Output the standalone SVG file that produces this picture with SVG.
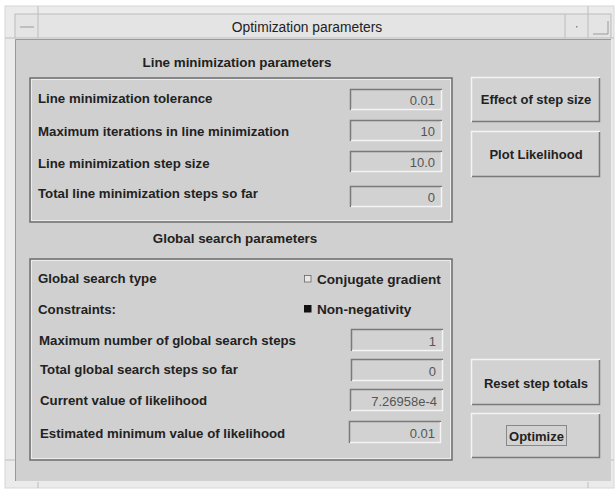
<svg xmlns="http://www.w3.org/2000/svg" width="616" height="491" viewBox="0 0 616 491">
<style>
.lbl{font-family:"Liberation Sans",Arial,sans-serif;font-weight:bold;font-size:13.25px;fill:#222}
.chk{font-family:"Liberation Sans",Arial,sans-serif;font-weight:bold;font-size:13.6px;fill:#222}
.hdr{font-family:"Liberation Sans",Arial,sans-serif;font-weight:bold;font-size:13.4px;fill:#222;text-anchor:middle}
.val{font-family:"Liberation Sans",Arial,sans-serif;font-size:13px;fill:#555;text-anchor:end}
.btn{font-family:"Liberation Sans",Arial,sans-serif;font-weight:bold;font-size:13px;fill:#222;text-anchor:middle}
.dark{stroke:#7a7a7a;stroke-width:1.5;fill:none}
.light{stroke:#f4f4f4;stroke-width:1.5;fill:none}
.fill{fill:#d2d2d2}
.grp{fill:none;stroke:#6e6e6e;stroke-width:1.5}
.grpl{fill:none;stroke:#ececec;stroke-width:1}
</style>
<rect x="0" y="0" width="616" height="491" fill="#ffffff"/>
<g id="frame">
<rect x="5" y="6" width="609" height="482" fill="#ebebeb" stroke="#d6d6d6"/>
<line x1="38" y1="6" x2="38" y2="14" stroke="#bdbdbd"/>
<line x1="588" y1="6" x2="588" y2="14" stroke="#bdbdbd"/>
<line x1="38" y1="482" x2="38" y2="488" stroke="#bdbdbd"/>
<line x1="588" y1="482" x2="588" y2="488" stroke="#bdbdbd"/>
<line x1="5" y1="38" x2="15" y2="38" stroke="#bdbdbd"/>
<line x1="611" y1="38" x2="614" y2="38" stroke="#bdbdbd"/>
<line x1="5" y1="460" x2="15" y2="460" stroke="#bdbdbd"/>
<line x1="611" y1="460" x2="614" y2="460" stroke="#bdbdbd"/>
</g>
<g id="titlebar">
<rect x="15" y="14" width="596" height="24" fill="#e4e4e4" stroke="#bcbcbc"/>
<line x1="38" y1="14" x2="38" y2="38" stroke="#bcbcbc"/>
<line x1="20" y1="27" x2="34" y2="27" stroke="#9a9a9a"/>
<line x1="565" y1="14" x2="565" y2="38" stroke="#bcbcbc"/>
<line x1="588" y1="14" x2="588" y2="38" stroke="#bcbcbc"/>
<rect x="576" y="26" width="1.5" height="1.5" fill="#888"/>
<path d="M593 34 H608 V21" fill="none" stroke="#9a9a9a"/>
<text x="307" y="32" font-family="'Liberation Sans',Arial,sans-serif" font-size="13.8px" fill="#222" text-anchor="middle">Optimization parameters</text>
</g>
<g id="content">
<rect x="15" y="39" width="596" height="442" fill="#d0d0d0"/>
<path d="M15.5 481 V39.5 H611" fill="none" stroke="#999"/>
</g>
<g id="line-group">
<text class="hdr" x="237" y="67">Line minimization parameters</text>
<rect class="grp" x="30" y="78" width="422" height="144"/>
<rect class="grpl" x="31.5" y="79.5" width="419" height="141"/>
<text class="lbl" x="38" y="103">Line minimization tolerance</text>
<text class="lbl" x="38" y="136">Maximum iterations in line minimization</text>
<text class="lbl" x="38" y="168">Line minimization step size</text>
<text class="lbl" x="38" y="198">Total line minimization steps so far</text>
</g>
<g id="entry-tol"><rect class="fill" x="350" y="89" width="92" height="21"/><path class="dark" d="M350.5 110 V89.5 H442"/><path class="light" d="M351 109.5 H441.5 V90"/><text class="val" x="435" y="105">0.01</text></g>
<g id="entry-maxit"><rect class="fill" x="350" y="120" width="92" height="21"/><path class="dark" d="M350.5 141 V120.5 H442"/><path class="light" d="M351 140.5 H441.5 V121"/><text class="val" x="435" y="136">10</text></g>
<g id="entry-step"><rect class="fill" x="350" y="151" width="92" height="21"/><path class="dark" d="M350.5 172 V151.5 H442"/><path class="light" d="M351 171.5 H441.5 V152"/><text class="val" x="435" y="167">10.0</text></g>
<g id="entry-total"><rect class="fill" x="350" y="186" width="92" height="21"/><path class="dark" d="M350.5 207 V186.5 H442"/><path class="light" d="M351 206.5 H441.5 V187"/><text class="val" x="435" y="202">0</text></g>
<g id="btn-effect"><rect class="fill" x="471" y="77" width="129" height="45"/><path class="light" d="M471.5 122 V77.5 H600"/><path class="dark" d="M472 121.5 H599.5 V78"/><text class="btn" x="536" y="104">Effect of step size</text></g>
<g id="btn-plot"><rect class="fill" x="471" y="131" width="129" height="46"/><path class="light" d="M471.5 177 V131.5 H600"/><path class="dark" d="M472 176.5 H599.5 V132"/><text class="btn" x="536" y="159">Plot Likelihood</text></g>
<g id="global-group">
<text class="hdr" x="235" y="243">Global search parameters</text>
<rect class="grp" x="30" y="259" width="422" height="201"/>
<rect class="grpl" x="31.5" y="260.5" width="419" height="198"/>
<text class="lbl" x="38" y="283">Global search type</text>
<text class="lbl" x="38" y="314">Constraints:</text>
<text class="lbl" x="39" y="345">Maximum number of global search steps</text>
<text class="lbl" x="40" y="374">Total global search steps so far</text>
<text class="lbl" x="40" y="405">Current value of likelihood</text>
<text class="lbl" x="40" y="438">Estimated minimum value of likelihood</text>
</g>
<g id="chk-conj"><rect x="304.5" y="275.5" width="6.5" height="6.5" fill="#e8e8e8" stroke="#666" stroke-width="0.8"/><text class="chk" x="317" y="284">Conjugate gradient</text></g>
<g id="chk-nonneg"><rect x="304" y="305" width="7.5" height="7.5" fill="#111"/><text class="chk" x="317" y="314">Non-negativity</text></g>
<g id="entry-maxg"><rect class="fill" x="351" y="329" width="92" height="22"/><path class="dark" d="M351.5 351 V329.5 H443"/><path class="light" d="M352 350.5 H442.5 V330"/><text class="val" x="436" y="346">1</text></g>
<g id="entry-totg"><rect class="fill" x="351" y="359" width="92" height="22"/><path class="dark" d="M351.5 381 V359.5 H443"/><path class="light" d="M352 380.5 H442.5 V360"/><text class="val" x="436" y="376">0</text></g>
<g id="entry-cur"><rect class="fill" x="350" y="389" width="93" height="22"/><path class="dark" d="M350.5 411 V389.5 H443"/><path class="light" d="M351 410.5 H442.5 V390"/><text class="val" x="437" y="406">7.26958e-4</text></g>
<g id="entry-est"><rect class="fill" x="349" y="421" width="92" height="22"/><path class="dark" d="M349.5 443 V421.5 H441"/><path class="light" d="M350 442.5 H440.5 V422"/><text class="val" x="435" y="438">0.01</text></g>
<g id="btn-reset"><rect class="fill" x="471" y="359" width="129" height="46"/><path class="light" d="M471.5 405 V359.5 H600"/><path class="dark" d="M472 404.5 H599.5 V360"/><text class="btn" x="536" y="388">Reset step totals</text></g>
<g id="btn-opt"><rect class="fill" x="471" y="413" width="129" height="45"/><path class="light" d="M471.5 458 V413.5 H600"/><path class="dark" d="M472 457.5 H599.5 V414"/><rect x="506.5" y="425.5" width="60" height="20" fill="none" stroke="#888"/><text class="btn" x="536.5" y="441">Optimize</text></g>
<g id="connectors"></g>
</svg>
